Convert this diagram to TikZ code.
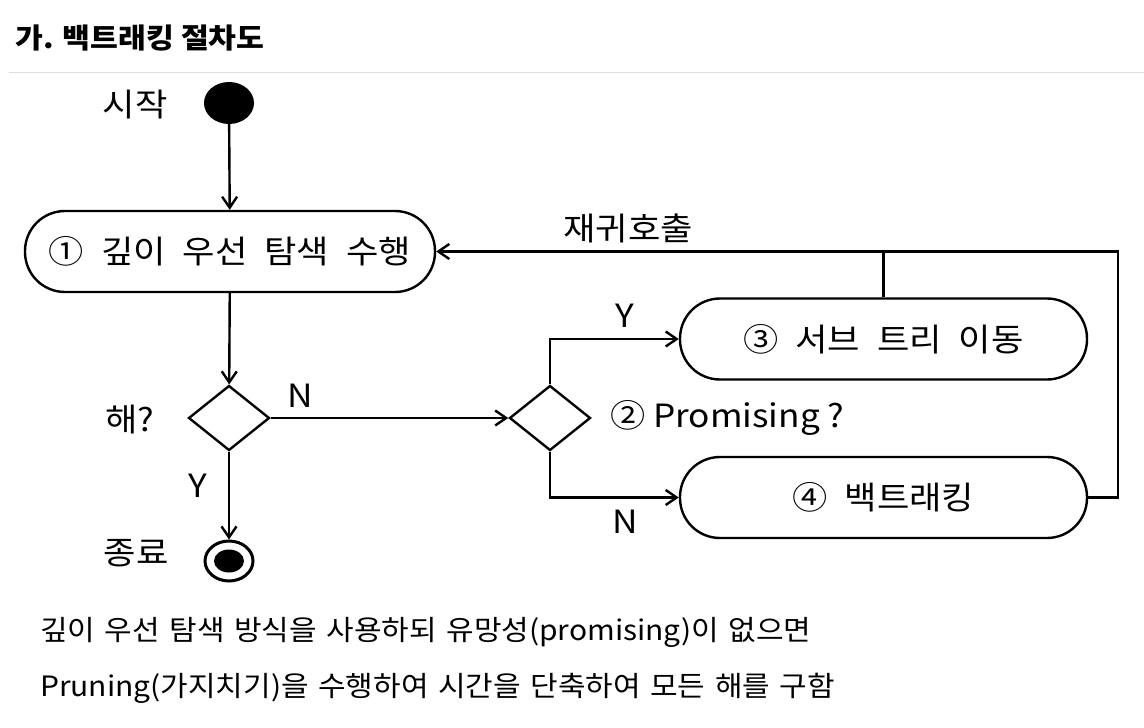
\documentclass[tikz,border=0pt]{standalone}
\usepackage{fontspec}
\setmainfont{Noto Sans CJK KR}
\newfontfamily\dgfont[FakeStretch=1.1]{Noto Sans CJK KR}
\newfontfamily\bodyfont[FakeStretch=1.07]{Noto Sans CJK KR}
\newcommand\myboxfont{\dgfont\fontsize{32}{38}\selectfont\spaceskip=17pt\relax}
\newcommand\mybodyfont{\bodyfont\fontsize{28}{34}\selectfont\spaceskip=9.6pt\relax}
\usetikzlibrary{arrows.meta,shapes.geometric}
\tikzset{
  conn/.style={line width=2.4pt,-{Straight Barb[length=11pt,width=15pt,line width=2.4pt]}},
  plainline/.style={line width=2.4pt},
  actbox/.style={draw,line width=2.4pt,rounded corners=40pt,minimum width=#1,minimum height=81pt,inner sep=0pt,font=\myboxfont},
  decision/.style={draw,diamond,line width=2.4pt,minimum width=81pt,minimum height=65pt,inner sep=0pt},
  lbl/.style={inner sep=0pt,font=\dgfont\fontsize{32}{38}\selectfont},
  body/.style={inner sep=0pt,anchor=west,font=\mybodyfont},
}
\begin{document}
\begin{tikzpicture}[x=1pt,y=-1pt]
\useasboundingbox (0,0) rectangle (1144,728);
% title
\node[inner sep=0pt,anchor=west,font=\fontsize{28}{32}\selectfont\bfseries\addfontfeature{FakeStretch=1.08}] (title) at (15,38) {가. 백트래킹 절차도};
\coordinate (sepL) at (9,72);
\coordinate (sepR) at (1144,72);
\draw[gray!25,line width=1pt] (sepL) -- (sepR);
% start / end
\node[ellipse,fill=black,minimum width=50pt,minimum height=42pt,inner sep=0pt] (start) at (229,103) {};
\node[lbl] (startlbl) at (135,105) {시작};
\node[ellipse,draw,line width=3pt,minimum width=48pt,minimum height=40pt,inner sep=0pt] (end) at (229,561) {};
\node[ellipse,fill=black,minimum width=30pt,minimum height=23pt,inner sep=0pt] (endin) at (229,561) {};
\node[lbl] (endlbl) at (136,553) {종료};
% boxes
\node[actbox=410pt] (box1) at (230,251.5) {① 깊이 우선 탐색 수행};
\node[actbox=407pt] (box3) at (883.5,339) {③ 서브 트리 이동};
\node[actbox=407pt] (box4) at (883.5,497.5) {④ 백트래킹};
% decisions
\node[decision] (d1) at (229,418) {};
\node[lbl] (d1lbl) at (130,420) {해?};
\node[decision] (d2) at (550,418) {};
\node[lbl,anchor=west] (d2lbl) at (610,418) {② Promising ?};
% labels
\node[lbl] (n1) at (300,396) {N};
\node[lbl] (y1) at (198,486) {Y};
\node[lbl] (y2) at (625,316) {Y};
\node[lbl] (n2) at (625,522) {N};
\node[lbl] (rec) at (628,228) {재귀호출};
% connectors
\draw[conn] (start) -- (box1);
\draw[conn] (box1) -- (d1);
\draw[conn] (d1) -- (end);
\draw[conn] (d1.east) -- (d2.west);
\draw[conn] (d2.north) |- (box3.west);
\draw[conn] (d2.south) |- (box4.west);
\coordinate (cr) at (1118,251.5);
\draw[conn] (box4.east) -| (cr) -- (box1.east);
\draw[plainline] (box3.north) -- (box3.north |- cr);
% body text
\node[body] (t1) at (40,632) {깊이 우선 탐색 방식을 사용하되 유망성(promising)이 없으면};
\node[body] (t2) at (40,688) {Pruning(가지치기)을 수행하여 시간을 단축하여 모든 해를 구함};
\end{tikzpicture}
\end{document}
